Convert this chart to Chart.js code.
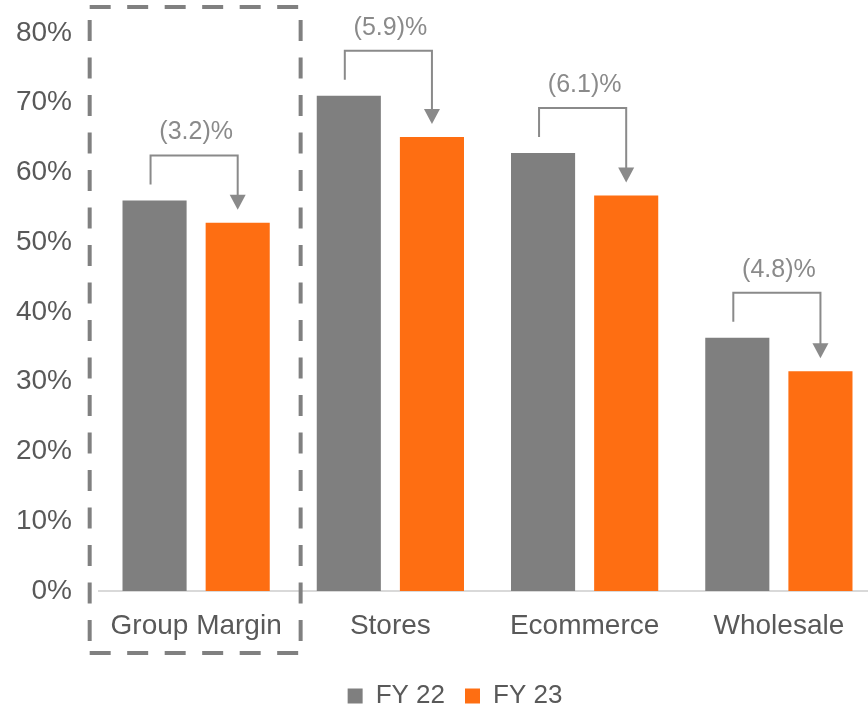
<!DOCTYPE html>
<html>
<head>
<meta charset="utf-8">
<script src="https://cdn.jsdelivr.net/npm/chart.js@4.4.0/dist/chart.umd.min.js"></script>
<style>
  html, body { margin: 0; padding: 0; background: #fff; overflow: hidden; }
  #wrap { width: 868px; height: 709px; overflow: hidden; }
  canvas { display: block; }
</style>
</head>
<body>
<div id="wrap"><canvas id="chart" width="876" height="719"></canvas></div>
<script>
// --- data ---
const categories = ['Group Margin', 'Stores', 'Ecommerce', 'Wholesale'];
const seriesNames = ['FY 22', 'FY 23'];
const fy22 = [56.0, 71.0, 62.8, 36.3];
const fy23 = [52.8, 65.1, 56.7, 31.5];
const changeLabels = ['(3.2)%', '(5.9)%', '(6.1)%', '(4.8)%'];
const yTicks = [0, 10, 20, 30, 40, 50, 60, 70, 80];

// --- styles ---
const GREY = '#7f7f7f';
const ORANGE = '#fe6e12';
const TEXT = '#595959';
const FONT = "'Liberation Sans', Arial, sans-serif";

// brackets with arrows + dashed box around the first group
const annotations = {
    id: 'annotations',
    afterLayout(chart) {
        // legend sits a little right of the canvas centre
        chart.legend.left += 34;
    },
    afterDatasetsDraw(chart) {
        const ctx = chart.ctx;
        const xs = chart.scales.x;
        const area = chart.chartArea;
        const grey = chart.getDatasetMeta(0).data;
        const orange = chart.getDatasetMeta(1).data;

        ctx.save();
        ctx.strokeStyle = '#8a8a8a';
        ctx.fillStyle = '#8a8a8a';
        ctx.lineWidth = 2;
        ctx.font = '25px ' + FONT;
        ctx.textAlign = 'center';
        ctx.textBaseline = 'middle';
        grey.forEach((g, i) => {
            const o = orange[i];
            const x1 = g.x - 4, x2 = o.x;
            const top = g.y - 45;
            const tip = o.y - 13;
            ctx.beginPath();
            ctx.moveTo(x1, g.y - 16);
            ctx.lineTo(x1, top);
            ctx.lineTo(x2, top);
            ctx.lineTo(x2, tip - 12);
            ctx.stroke();
            ctx.beginPath();
            ctx.moveTo(x2 - 8, tip - 15);
            ctx.lineTo(x2 + 8, tip - 15);
            ctx.lineTo(x2, tip);
            ctx.closePath();
            ctx.fill();
            ctx.fillText(changeLabels[i], (g.x + o.x) / 2, top - 23);
        });

        // dashed box
        const cw = xs.width / categories.length;
        const cx = xs.getPixelForValue(0);
        const L = cx - cw * 0.548, R = cx + cw * 0.538;
        const T = area.top - 26, B = area.bottom + 62;
        ctx.strokeStyle = '#808080';
        ctx.lineWidth = 4;
        ctx.setLineDash([21, 16.5]);
        ctx.beginPath();
        ctx.moveTo(L, T); ctx.lineTo(R + 2, T);
        ctx.moveTo(L, B); ctx.lineTo(R + 2, B);
        ctx.moveTo(L, T + 13); ctx.lineTo(L, B);
        ctx.moveTo(R, T + 13); ctx.lineTo(R, B);
        ctx.stroke();
        ctx.restore();
    }
};

new Chart(document.getElementById('chart'), {
    type: 'bar',
    data: {
        labels: categories,
        datasets: [
            { label: seriesNames[0], data: fy22, backgroundColor: GREY, categoryPercentage: 0.856, barPercentage: 0.771 },
            { label: seriesNames[1], data: fy23, backgroundColor: ORANGE, categoryPercentage: 0.856, barPercentage: 0.771 }
        ]
    },
    options: {
        responsive: false,
        animation: false,
        devicePixelRatio: 1,
        layout: { padding: { top: 33, left: 0, right: 0, bottom: 0 } },
        scales: {
            x: {
                grid: { display: false, drawTicks: false },
                border: { color: '#d9d9d9', width: 2 },
                ticks: { color: TEXT, font: { family: FONT, size: 28 }, padding: 18, maxRotation: 0 },
                afterFit(s) { s.height = 72; }
            },
            y: {
                min: 0,
                max: 80,
                afterBuildTicks(s) { s.ticks = yTicks.map(v => ({ value: v })); },
                grid: { display: false, drawTicks: false },
                border: { display: false },
                ticks: { color: TEXT, font: { family: FONT, size: 28 }, padding: 27, callback: v => v + '%' },
                afterFit(s) {
                    s.width = 99;
                    s.paddingTop = 10;
                    s.paddingBottom = 10;
                }
            }
        },
        plugins: {
            legend: {
                position: 'bottom',
                labels: { boxWidth: 15, boxHeight: 15, padding: 20, color: TEXT, font: { family: FONT, size: 26 } }
            },
            tooltip: { enabled: false }
        }
    },
    plugins: [annotations]
});
</script>
</body>
</html>
